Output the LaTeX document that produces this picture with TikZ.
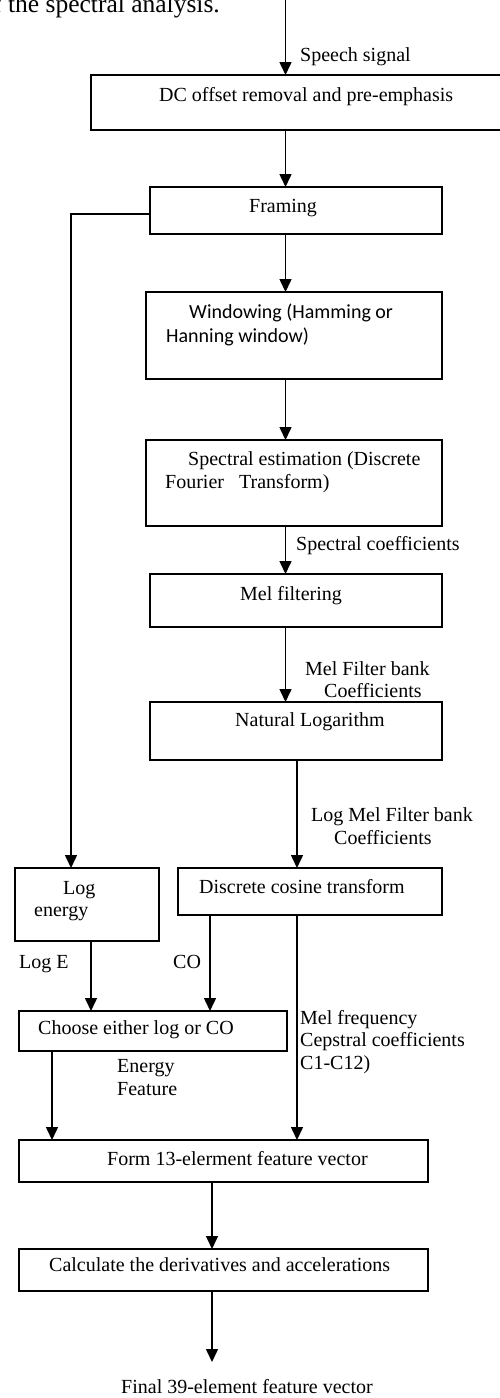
\documentclass[tikz,border=0pt]{standalone}
\usepackage{fontspec}
\setmainfont{Liberation Serif}
\newfontfamily\calib{Carlito}
\usetikzlibrary{arrows.meta}
\begin{document}
\begin{tikzpicture}[x=1pt,y=-1pt,
  box/.style={draw=black,line width=1.5pt,inner sep=0pt,outer sep=0pt,fill=none},
  arr/.style={line width=1.5pt,-{Triangle[length=13pt,width=12pt]}},
  plain/.style={line width=1.5pt},
  txt/.style={anchor=base west,inner sep=0pt,font=\fontsize{20}{23}\selectfont},
  ctxt/.style={anchor=base west,inner sep=0pt,font=\calib\fontsize{20}{24}\selectfont}]
\useasboundingbox (0,0) rectangle (500,1398);
% body text fragment at the top
\node[anchor=base east,inner sep=0pt,font=\fontsize{25.5}{29}\selectfont] (top) at (220,12.5) {f the spectral analysis.};
% column coordinates
\coordinate (xa) at (285.5,-10);
\coordinate (xb) at (297,0);
\coordinate (xl) at (71,0);
\coordinate (xle) at (91,0);
\coordinate (xco) at (210,0);
\coordinate (xch) at (52,0);
\coordinate (xf) at (212,0);
\coordinate (yl) at (0,214);
\coordinate (out) at (212,1362);
% boxes
\node[box,minimum width=414pt,minimum height=55pt] (dc) at (298,102.5) {};
\node[box,minimum width=292pt,minimum height=47pt] (fr) at (296,210.5) {};
\node[box,minimum width=296pt,minimum height=87pt] (win) at (294,335.5) {};
\node[box,minimum width=296pt,minimum height=86pt] (spec) at (294,483) {};
\node[box,minimum width=292pt,minimum height=53pt] (mel) at (296,600.5) {};
\node[box,minimum width=292pt,minimum height=58pt] (nat) at (296,731) {};
\node[box,minimum width=144pt,minimum height=73pt] (le) at (87,904.5) {};
\node[box,minimum width=264pt,minimum height=47pt] (dct) at (310,891.5) {};
\node[box,minimum width=268pt,minimum height=40pt] (ch) at (153,1031) {};
\node[box,minimum width=409pt,minimum height=42pt] (form) at (223.5,1161) {};
\node[box,minimum width=409pt,minimum height=42pt] (calc) at (223.5,1270) {};
% box texts
\node[txt] (t1) at (159,101.5) {DC offset removal and pre-emphasis};
\node[txt] (t2) at (249,212) {Framing};
\node[ctxt] (t3) at (189,318) {Windowing (Hamming or};
\node[ctxt] (t4) at (166,342.5) {Hanning window)};
\node[txt] (t5) at (188,465) {Spectral estimation (Discrete};
\node[txt] (t6) at (165,488) {Fourier\ \ \ Transform)};
\node[txt] (t7) at (240,600) {Mel filtering};
\node[txt] (t8) at (235,726.5) {Natural Logarithm};
\node[txt] (t9) at (199,893) {Discrete cosine transform};
\node[txt] (t10) at (63,894) {Log};
\node[txt] (t11) at (34,916.5) {energy};
\node[txt] (t12) at (38,1034) {Choose either log or CO};
\node[txt] (t13) at (107,1165) {Form 13-elerment feature vector};
\node[txt] (t14) at (49,1271.5) {Calculate the derivatives and accelerations};
% connector labels
\node[txt] (l1) at (300,61) {Speech signal};
\node[txt] (l2) at (296,550.5) {Spectral coefficients};
\node[txt] (l3) at (305,675) {Mel Filter bank};
\node[txt] (l4) at (324,697) {Coefficients};
\node[txt] (l5) at (311,821.5) {Log Mel Filter bank};
\node[txt] (l6) at (334,844) {Coefficients};
\node[txt] (l7) at (19,968) {Log E};
\node[txt] (l8) at (173,968) {CO};
\node[txt] (l9) at (300,1024) {Mel frequency};
\node[txt] (l10) at (300,1046.5) {Cepstral coefficients};
\node[txt] (l11) at (300,1069) {C1-C12)};
\node[txt] (l12) at (117,1072) {Energy};
\node[txt] (l13) at (117,1095.5) {Feature};
\node[txt] (l14) at (121,1393) {Final 39-element feature vector};
% connectors
\draw[arr] (xa) -- (xa |- dc.north);
\draw[arr] (xa |- dc.south) -- (xa |- fr.north);
\draw[arr] (xa |- fr.south) -- (xa |- win.north);
\draw[arr] (xa |- win.south) -- (xa |- spec.north);
\draw[arr] (xa |- spec.south) -- (xa |- mel.north);
\draw[arr] (xa |- mel.south) -- (xa |- nat.north);
\draw[arr] (xb |- nat.south) -- (xb |- dct.north);
\draw[arr] (fr.west |- yl) -| (xl |- le.north);
\draw[arr] (xle |- le.south) -- (xle |- ch.north);
\draw[arr] (xco |- dct.south) -- (xco |- ch.north);
\draw[arr] (xb |- dct.south) -- (xb |- form.north);
\draw[arr] (xch |- ch.south) -- (xch |- form.north);
\draw[arr] (xf |- form.south) -- (xf |- calc.north);
\draw[arr] (xf |- calc.south) -- (out);
\end{tikzpicture}
\end{document}
